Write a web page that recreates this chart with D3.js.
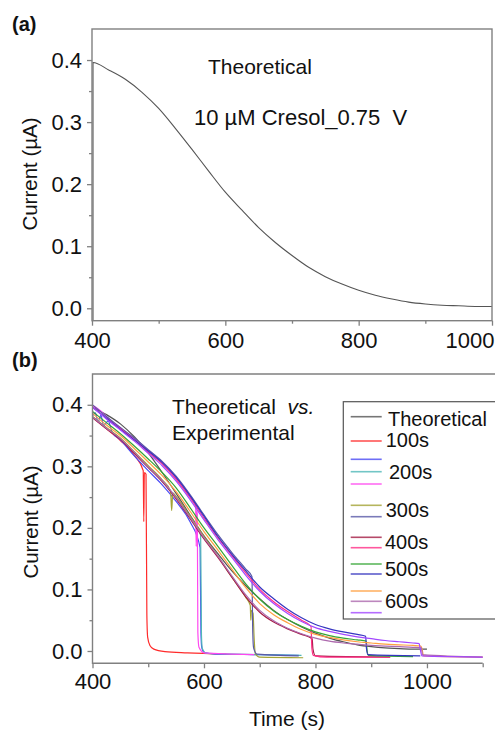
<!DOCTYPE html>
<html>
<head>
<meta charset="utf-8">
<script src="https://cdn.jsdelivr.net/npm/d3@7"></script>
<style>
body { margin: 0; background: #fff; }
svg { display: block; }
text { font-family: "Liberation Sans", Arial, sans-serif; fill: #111; }
</style>
</head>
<body>
<svg id="chart" width="495" height="733"></svg>
<script>
// theoretical current (used in both panels)
var theoT = [400, 425, 450, 475, 500, 525, 550, 575, 600, 625, 650, 675, 700, 725, 750, 775, 800, 825, 850, 875, 900, 925, 950, 975, 1000];
var theoV = [0.396, 0.384, 0.369, 0.348, 0.322, 0.290, 0.256, 0.221, 0.187, 0.158, 0.130, 0.106, 0.085, 0.066, 0.051, 0.039, 0.029, 0.021, 0.015, 0.010, 0.007, 0.005, 0.004, 0.003, 0.003];

// experimental runs [time, current]
var run100a = [[400,.380],[425,.361],[450,.342],[475,.318],[491,.293],[492,.210],[493,.290],[496,.287],[497.5,.060],[499,.022],[503,.009],[510,.003],[530,-.001],[570,-.003],[640,-.005]];
var run200a = [[400,.382],[405,.387],[410,.372],[415,.383],[420,.366],[428,.374],[435,.356],[450,.343],[475,.317],[500,.293],[525,.270],[550,.243],[575,.210],[593,.168],[594.5,.030],[596,.006],[600,-.002],[620,-.005],[700,-.006],[770,-.007]];
var run200b = [[400,.380],[425,.362],[450,.345],[475,.322],[500,.299],[525,.276],[550,.249],[575,.217],[594,.188],[595.5,.025],[597,.004],[605,-.004],[700,-.006],[775,-.007]];
var run200c = [[400,.399],[412,.392],[425,.381],[450,.362],[475,.345],[500,.326],[525,.307],[550,.282],[575,.252],[585,.238],[586,.170],[587,.228],[588,.222],[589,.030],[591,.006],[600,-.003],[650,-.005],[690,-.006]];
var run300a = [[400,.381],[425,.363],[450,.346],[475,.324],[500,.301],[525,.278],[540,.260],[542,.228],[544,.257],[550,.251],[575,.219],[600,.186],[625,.154],[650,.120],[675,.087],[683,.074],[684,.050],[685,.066],[688,.061],[690,.020],[692,-.004],[700,-.010],[778,-.011]];
var run300b = [[400,.400],[425,.381],[450,.363],[475,.346],[500,.327],[525,.308],[550,.284],[575,.254],[600,.221],[625,.189],[650,.160],[675,.133],[686,.121],[687.5,.030],[689,.005],[695,-.005],[770,-.008]];
var run400a = [[400,.379],[425,.361],[450,.344],[475,.321],[500,.298],[525,.275],[550,.247],[575,.215],[600,.182],[625,.152],[650,.120],[675,.088],[700,.063],[725,.047],[750,.036],[775,.027],[794,.020],[795.5,.003],[800,-.008],[934,-.010]];
var run400b = [[400,.397],[425,.378],[450,.361],[475,.343],[500,.323],[525,.304],[550,.279],[575,.249],[600,.216],[625,.184],[650,.155],[675,.127],[700,.100],[725,.080],[750,.064],[775,.050],[792,.040],[793.5,.005],[796,-.007],[820,-.010],[934,-.010]];
var run500a = [[400,.389],[425,.371],[450,.353],[475,.333],[500,.312],[525,.290],[550,.265],[575,.233],[600,.200],[625,.170],[650,.139],[675,.109],[700,.084],[725,.065],[750,.051],[775,.040],[800,.031],[825,.025],[850,.021],[875,.018],[891,.016],[892.5,.002],[895,-.007],[975,-.009]];
var run500b = [[400,.396],[425,.378],[450,.360],[475,.343],[500,.325],[525,.306],[550,.282],[575,.252],[600,.219],[625,.186],[650,.157],[675,.130],[700,.104],[725,.085],[750,.068],[775,.054],[800,.043],[825,.036],[850,.031],[875,.027],[890,.024],[891.5,.004],[894,-.006],[988,-.008]];
var run600a = [[400,.386],[425,.367],[450,.350],[475,.329],[500,.307],[525,.285],[550,.259],[575,.227],[600,.194],[625,.164],[650,.133],[675,.103],[700,.077],[725,.059],[750,.046],[775,.035],[800,.027],[825,.022],[850,.018],[875,.015],[900,.013],[925,.011],[950,.010],[975,.009],[989,.008],[991,.004],[994,-.008],[1100,-.010]];
var run600b = [[400,.380],[425,.362],[450,.345],[475,.323],[500,.299],[525,.277],[550,.249],[575,.217],[600,.184],[625,.154],[650,.122],[675,.091],[700,.066],[725,.049],[750,.037],[775,.028],[800,.021],[825,.016],[850,.013],[875,.011],[900,.009],[925,.008],[950,.007],[975,.006],[990,.005],[992,-.006],[1100,-.010]];
var run600c = [[400,.396],[425,.377],[450,.359],[475,.341],[500,.321],[525,.301],[550,.276],[575,.246],[600,.213],[625,.181],[650,.152],[675,.123],[700,.097],[725,.077],[750,.061],[775,.048],[800,.038],[825,.032],[850,.027],[875,.023],[900,.020],[925,.017],[950,.015],[975,.013],[986,.012],[988,.003],[991,-.008],[1100,-.010]];

var yTicks = [0, 0.1, 0.2, 0.3, 0.4];
var yMinor = [0.05, 0.15, 0.25, 0.35];
var xTicksA = [400, 600, 800, 1000];
var xMinorA = [500, 700, 900];
var xTicksB = [400, 600, 800, 1000];
var xMinorB = [500, 700, 900, 1100];
var legendLabels = ["Theoretical", "100s", "200s", "300s", "400s", "500s", "600s"];

var theo = theoT.map(function (t, i) { return [t, theoV[i]]; });

var runs = [
  { d: theo,    c: "#555555" },
  { d: run100a, c: "#ff2b2b" },
  { d: run200a, c: "#4b4bf5" },
  { d: run200b, c: "#4fb8b8" },
  { d: run200c, c: "#ff48f0" },
  { d: run300a, c: "#a3a335" },
  { d: run300b, c: "#5a5aa8" },
  { d: run400a, c: "#a41c44" },
  { d: run400b, c: "#ff2f86" },
  { d: run500a, c: "#36a636" },
  { d: run500b, c: "#3535c0" },
  { d: run600a, c: "#ffa040" },
  { d: run600b, c: "#ad6aae" },
  { d: run600c, c: "#a348ff" }
];

var svg = d3.select("#chart");
var axisCol = "#808080";
var fmtX = d3.format("d");

function styleAxis(g) {
  g.select(".domain").remove();
  g.selectAll("line").attr("stroke", axisCol).attr("stroke-width", 1.3);
  g.selectAll("text").attr("font-size", 22).attr("fill", "#111")
    .attr("font-family", "Liberation Sans, Arial, sans-serif");
}

// ---------- panel (a) ----------
var xa = d3.scaleLinear().domain([400, 1000]).range([92, 492]);
var ya = d3.scaleLinear().domain([-0.02, 0.45]).range([320.7, 29]);

svg.append("clipPath").attr("id", "clipA").append("rect")
  .attr("x", 92).attr("y", 29).attr("width", 400).attr("height", 291.7);

var lineA = d3.line().x(function (d) { return xa(d[0]); }).y(function (d) { return ya(d[1]); })
  .curve(d3.curveMonotoneX);

// sharp rise at the start of the theoretical curve
svg.append("path")
  .attr("clip-path", "url(#clipA)")
  .datum([[401.5, -0.02], [401.5, theoV[0]]].concat(theo.slice(1)))
  .attr("fill", "none").attr("stroke", "#555").attr("stroke-width", 1.1)
  .attr("d", lineA);

svg.append("g").attr("transform", "translate(92,0)")
  .call(d3.axisLeft(ya).tickValues(yTicks).tickFormat(d3.format(".1f")).tickSize(5).tickPadding(5))
  .call(styleAxis);
svg.append("g").attr("transform", "translate(92,0)")
  .call(d3.axisLeft(ya).tickValues(yMinor).tickFormat("").tickSize(3))
  .call(styleAxis);
var gxa = svg.append("g").attr("transform", "translate(0,320.7)")
  .call(d3.axisBottom(xa).tickValues(xTicksA).tickFormat(fmtX).tickSize(5).tickPadding(7))
  .call(styleAxis);
gxa.selectAll(".tick").filter(function (d) { return d === 1000; }).select("text")
  .attr("text-anchor", "end").attr("x", 2);
svg.append("g").attr("transform", "translate(0,320.7)")
  .call(d3.axisBottom(xa).tickValues(xMinorA).tickFormat("").tickSize(3))
  .call(styleAxis);

svg.append("rect").attr("x", 92).attr("y", 29).attr("width", 400).attr("height", 291.7)
  .attr("fill", "none").attr("stroke", axisCol).attr("stroke-width", 1.4);

svg.append("text").attr("transform", "translate(37,174) rotate(-90)")
  .attr("text-anchor", "middle").attr("font-size", 20.5).text("Current (\u00b5A)");
svg.append("text").attr("x", 208).attr("y", 74).attr("font-size", 21).text("Theoretical");
svg.append("text").attr("x", 194).attr("y", 124.5).attr("font-size", 22)
  .attr("xml:space", "preserve").style("white-space", "pre").text("10 \u00b5M Cresol_0.75  V");
svg.append("text").attr("x", 12).attr("y", 31).attr("font-size", 20).attr("font-weight", "bold")
  .attr("font-family", "Lato, sans-serif").text("(a)");

// ---------- panel (b) ----------
var xb = d3.scaleLinear().domain([400, 1100]).range([92.5, 482.7]);
var yb = d3.scaleLinear().domain([-0.02, 0.45]).range([663.3, 374]);

svg.append("clipPath").attr("id", "clipB").append("rect")
  .attr("x", 92.5).attr("y", 374).attr("width", 400).attr("height", 289.3);

var lineB = d3.line().x(function (d) { return xb(d[0]); }).y(function (d) { return yb(d[1]); })
  .curve(d3.curveMonotoneX);

svg.append("g").attr("clip-path", "url(#clipB)")
  .selectAll("path").data(runs).enter().append("path")
  .attr("fill", "none")
  .attr("stroke", function (r) { return r.c; })
  .attr("stroke-width", 1.2)
  .attr("d", function (r) { return lineB(r.d); });

svg.append("g").attr("transform", "translate(92.5,0)")
  .call(d3.axisLeft(yb).tickValues(yTicks).tickFormat(d3.format(".1f")).tickSize(5).tickPadding(5))
  .call(styleAxis);
svg.append("g").attr("transform", "translate(92.5,0)")
  .call(d3.axisLeft(yb).tickValues(yMinor).tickFormat("").tickSize(3))
  .call(styleAxis);
svg.append("g").attr("transform", "translate(0,663.3)")
  .call(d3.axisBottom(xb).tickValues(xTicksB).tickFormat(fmtX).tickSize(5).tickPadding(5))
  .call(styleAxis);
svg.append("g").attr("transform", "translate(0,663.3)")
  .call(d3.axisBottom(xb).tickValues(xMinorB).tickFormat("").tickSize(4))
  .call(styleAxis);

// left, bottom and top frame lines
svg.append("path")
  .attr("d", "M495,374H92.5V663.3H" + xb(1100))
  .attr("fill", "none").attr("stroke", axisCol).attr("stroke-width", 1.4);

svg.append("text").attr("transform", "translate(38,522) rotate(-90)")
  .attr("text-anchor", "middle").attr("font-size", 20.5).text("Current (\u00b5A)");
svg.append("text").attr("x", 287).attr("y", 726).attr("text-anchor", "middle")
  .attr("font-size", 21).text("Time (s)");
svg.append("text").attr("x", 12).attr("y", 367).attr("font-size", 20).attr("font-weight", "bold")
  .attr("font-family", "Lato, sans-serif").text("(b)");

var note = svg.append("text").attr("x", 172).attr("y", 414).attr("font-size", 21)
  .attr("xml:space", "preserve").style("white-space", "pre");
note.append("tspan").text("Theoretical  ");
note.append("tspan").attr("font-style", "italic").text("vs.");
svg.append("text").attr("x", 172).attr("y", 440).attr("font-size", 21).text("Experimental");

// legend
svg.append("rect").attr("x", 343.3).attr("y", 401.7).attr("width", 160).attr("height", 217.3)
  .attr("fill", "#fff").attr("stroke", "#555").attr("stroke-width", 1.2);

var legLineY = [416.7, 441, 459.3, 471.7, 484, 505.3, 516.7, 537.3, 547.7, 564, 574, 591, 601.3, 612.7];
svg.append("g").selectAll("line").data(runs).enter().append("line")
  .attr("x1", 350.7).attr("x2", 381.7)
  .attr("y1", function (r, i) { return legLineY[i]; })
  .attr("y2", function (r, i) { return legLineY[i]; })
  .attr("stroke", function (r) { return r.c; })
  .attr("stroke-width", 1.6).attr("opacity", 0.8);

var legTextX = [388, 385.7, 389, 385.7, 385, 385, 385];
var legTextY = [426, 447, 479, 517, 549, 575.7, 608];
svg.append("g").selectAll("text").data(legendLabels).enter().append("text")
  .attr("x", function (d, i) { return legTextX[i]; })
  .attr("y", function (d, i) { return legTextY[i]; })
  .attr("font-family", "Lato, sans-serif").attr("font-size", 20)
  .text(function (d) { return d; });
</script>
</body>
</html>
